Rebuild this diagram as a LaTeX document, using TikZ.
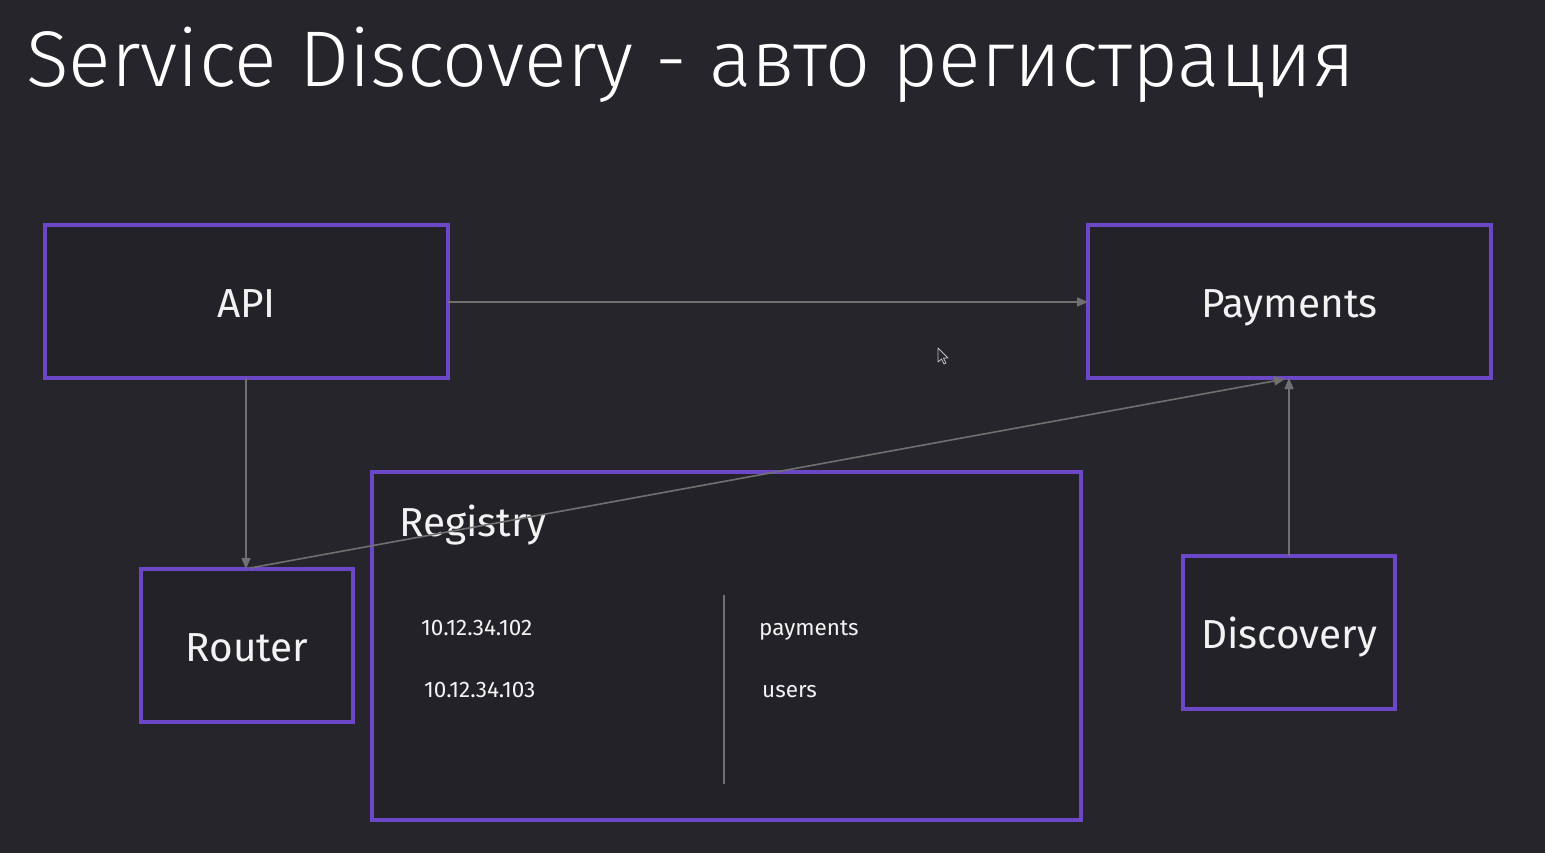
\documentclass[tikz,border=0pt]{standalone}
\usepackage{fontspec}
\setmainfont{Fira Sans}
\newfontfamily\lightfont{Fira Sans Light}
\usetikzlibrary{arrows.meta}
\definecolor{bg}{HTML}{27252C}
\definecolor{boxfill}{HTML}{242229}
\definecolor{frame}{HTML}{6C48C8}
\definecolor{wire}{HTML}{707070}
\definecolor{ink}{HTML}{F2F2F2}
\tikzset{
  svc/.style={draw=frame, line width=4pt, fill=boxfill, inner sep=0pt},
  lbl/.style={text=ink, font=\fontsize{40.5}{44}\selectfont, inner sep=0pt, anchor=base},
  row/.style={text=ink!90, font=\fontsize{22.5}{26}\selectfont, inner sep=0pt, anchor=base west},
  conn/.style={draw=wire, line width=1.6pt, -{Triangle[length=11pt,width=9pt]}},
}
\begin{document}
\begin{tikzpicture}[x=1pt,y=-1pt]
\fill[bg] (0,0) rectangle (1545,853);
\useasboundingbox (0,0) rectangle (1545,853);

% title
\node[text=white, font=\lightfont\fontsize{79}{84}\selectfont, anchor=base west, inner sep=0pt] (title) at (26,87) {Service Discovery - авто регистрация};

% service boxes
\draw[svc] (45,225) rectangle (448,378);
\node[lbl] (api) at (246.5,317) {API};

\draw[svc] (1088,225) rectangle (1491,378);
\node[lbl] (pay) at (1289.5,317) {Payments};

\draw[svc] (141,569) rectangle (353,722);
\node[lbl] (router) at (247,661) {Router};

\draw[svc] (1183,556) rectangle (1395,709);
\node[lbl] (disc) at (1289,648) {Discovery};

% registry table
\draw[svc] (372,472) rectangle (1081,820);
\node[lbl, anchor=base west] (reg) at (399,536) {Registry};
\draw[wire, line width=1.6pt] (724,595) -- (724,784);
\node[row] (ip1) at (421,635) {10.12.34.102};
\node[row] (ip2) at (424,697) {10.12.34.103};
\node[row] (n1) at (759,635) {payments};
\node[row] (n2) at (762,697) {users};

% anchor points on box edges
\coordinate (apiR) at (448,302);
\coordinate (apiB) at (246,378);
\coordinate (payL) at (1088,302);
\coordinate (payB) at (1289,378);
\coordinate (payB2) at (1285,379);
\coordinate (routerT) at (246,569);
\coordinate (routerT2) at (250,568);
\coordinate (discT) at (1289,556);

% connectors
\draw[conn] (apiR) -- (payL);
\draw[conn] (apiB) -- (routerT);
\draw[conn] (routerT2) -- (payB2);
\draw[conn] (discT) -- (payB);

% mouse pointer
\draw[white!70!bg, fill=bg, line width=0.8pt, line join=round]
  (938,348) -- (938,362) -- (941.5,359) -- (944,364) -- (946,363) -- (943.5,358) -- (948,358) -- cycle;
\end{tikzpicture}
\end{document}
